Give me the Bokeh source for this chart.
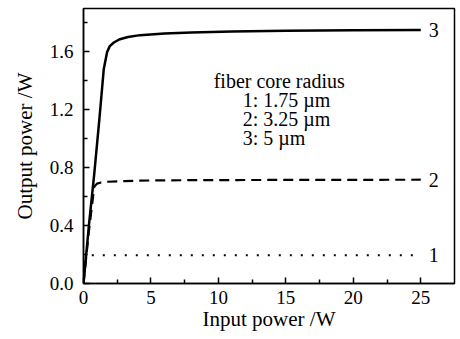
from bokeh.plotting import figure
from bokeh.models import FixedTicker, Range1d, NumeralTickFormatter
from bokeh.core.properties import value
from bokeh.embed import file_html
from bokeh.resources import INLINE

# curve 3: core radius 5 um (solid)
x3 = [0, 0.4, 0.8, 1.2, 1.5, 1.75, 1.95, 2.25, 2.7, 3.3, 4.2, 6, 8, 11, 15, 20, 25]
y3 = [0, 0.40, 0.76, 1.16, 1.48, 1.60, 1.64, 1.665, 1.688, 1.703, 1.716, 1.727, 1.734, 1.741, 1.746, 1.749, 1.752]
# curve 2: core radius 3.25 um (dashed)
x2 = [0, 0.4, 0.8, 1.0, 1.3, 1.8, 3, 5, 8, 12, 18, 25]
y2 = [0, 0.36, 0.67, 0.69, 0.698, 0.703, 0.708, 0.712, 0.714, 0.715, 0.716, 0.717]
# curve 1: core radius 1.75 um (dotted)
x1 = [0, 0.2, 0.3, 1, 5, 10, 15, 20, 25]
y1 = [0, 0.18, 0.195, 0.195, 0.195, 0.195, 0.195, 0.195, 0.195]

curve_labels = ["3", "2", "1"]
legend_title = "fiber core radius"
legend_lines = ["1: 1.75 \u00b5m", "2: 3.25 \u00b5m", "3: 5 \u00b5m"]

x_ticks = [0, 5, 10, 15, 20, 25]
x_minor = [2.5, 7.5, 12.5, 17.5, 22.5]
y_ticks = [0.0, 0.4, 0.8, 1.2, 1.6]
y_minor = [0.2, 0.6, 1.0, 1.4, 1.8]

FONT = "Liberation Serif"

p = figure(width=458, height=335, output_backend="svg", toolbar_location=None,
           x_range=Range1d(0, 27.5), y_range=Range1d(0, 1.9),
           min_border_left=83, min_border_right=4, min_border_top=8, min_border_bottom=52)
p.background_fill_color = "white"
p.border_fill_color = "white"
p.xgrid.visible = False
p.ygrid.visible = False
p.outline_line_color = "black"
p.outline_line_width = 1.5

p.line(x3, y3, line_color="black", line_width=2.5)
p.line(x2, y2, line_color="black", line_width=2.2, line_dash="10 6")
p.line(x1, y1, line_color="black", line_width=2, line_dash="2 9")

ends_x = [x3[-1], x2[-1], x1[-1]]
ends_y = [y3[-1], y2[-1], y1[-1]]
p.text([e + 0.6 for e in ends_x], ends_y, text=curve_labels, text_font=value(FONT),
       text_font_size="20px", text_baseline="middle", text_align="left", text_color="black")

p.text([9.65], [1.399], text=[legend_title], text_font=value(FONT), text_font_size="20px",
       text_baseline="alphabetic", text_align="left", text_color="black")
p.text([11.8, 11.8, 11.8], [1.267, 1.136, 1.004], text=legend_lines, text_font=value(FONT),
       text_font_size="20px", text_baseline="alphabetic", text_align="left", text_color="black")

p.xaxis.ticker = FixedTicker(ticks=x_ticks, minor_ticks=x_minor)
p.yaxis.ticker = FixedTicker(ticks=y_ticks, minor_ticks=y_minor)
p.yaxis.formatter = NumeralTickFormatter(format="0.0")
p.xaxis.axis_label = "Input power /W"
p.yaxis.axis_label = "Output power /W"

for ax in (p.xaxis, p.yaxis):
    ax.axis_line_color = "black"
    ax.axis_line_width = 1.5
    ax.major_tick_in = 6
    ax.major_tick_out = 0
    ax.minor_tick_in = 4
    ax.minor_tick_out = 0
    ax.major_tick_line_width = 1.5
    ax.minor_tick_line_width = 1.5
    ax.major_label_text_font = FONT
    ax.major_label_text_font_size = "19px"
    ax.major_label_text_color = "black"
    ax.axis_label_text_font = FONT
    ax.axis_label_text_font_size = "21px"
    ax.axis_label_text_font_style = "normal"
    ax.axis_label_text_color = "black"

p.xaxis.major_label_standoff = 7
p.xaxis.axis_label_standoff = 0
p.yaxis.major_label_standoff = 10
p.yaxis.axis_label_standoff = 10

open("out.html", "w").write(file_html(p, INLINE))
